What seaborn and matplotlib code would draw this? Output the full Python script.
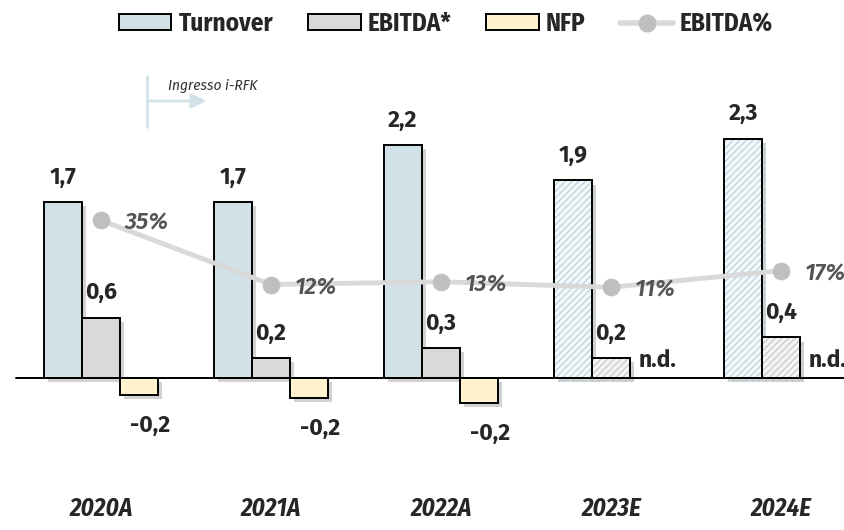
import numpy as np
import pandas as pd
import matplotlib
matplotlib.use("Agg")
import matplotlib.pyplot as plt
import matplotlib.patheffects as pe
from matplotlib.patches import Patch
from matplotlib.lines import Line2D
import seaborn as sns

# data
years = ["2020A", "2021A", "2022A", "2023E", "2024E"]
turnover = [1.69, 1.69, 2.24, 1.90, 2.30]
ebitda = [0.58, 0.19, 0.29, 0.19, 0.39]
nfp = [-0.16, -0.19, -0.24, np.nan, np.nan]
ebitda_pct = [0.35, 0.12, 0.13, 0.11, 0.17]
estimate_years = ["2023E", "2024E"]
metrics = ["Turnover", "EBITDA*", "NFP"]

colors = {"Turnover": "#d0e1e8", "EBITDA*": "#d9d9d9", "NFP": "#fff2cc"}
hatch_face = {"Turnover": "#f3f8fa", "EBITDA*": "#f4f4f4"}
hatch_line = {"Turnover": "#b7cfd9", "EBITDA*": "#c4c4c4"}
line_color = "#d9d9d9"
marker_color = "#bfbfbf"

sns.set_style("white")
plt.rcParams["font.family"] = ["Fira Sans", "DejaVu Sans"]
plt.rcParams["hatch.linewidth"] = 0.8
cond = ["Fira Sans Condensed", "DejaVu Sans"]

df = pd.DataFrame({
    "year": years * 3,
    "metric": sum([[m] * len(years) for m in metrics], []),
    "value": turnover + ebitda + nfp,
})

fig = plt.figure(figsize=(8.45, 5.3), dpi=100)
ax = fig.add_axes([0, 45 / 530, 1, 425 / 530])

shadow = [pe.SimplePatchShadow(offset=(3, -3), shadow_rgbFace="#808080", alpha=0.35), pe.Normal()]

sns.barplot(data=df, x="year", y="value", hue="metric", palette=colors,
            width=0.67, saturation=1, edgecolor="black", linewidth=1.4,
            legend=False, ax=ax)

ax.set_xlim(-101 / 170, (845 - 101) / 170)
ax.set_ylim(-107 / 104, -107 / 104 + 425 / 104)

# style bars: shadows, hatching for estimates, value labels
for k, (metric, cont) in enumerate(zip(metrics, ax.containers)):
    for bar in cont:
        h = bar.get_height()
        if np.isnan(h):
            continue
        bar.set_path_effects(shadow)
        idx = int(round(bar.get_x() + bar.get_width() / 2 - (k - 1) * bar.get_width()))
        if years[idx] in estimate_years:
            bar.set_facecolor(hatch_face[metric])
            bar.set_hatch("/////")
            if hasattr(bar, "set_hatchcolor"):
                bar.set_hatchcolor(hatch_line[metric])
            else:
                bar._hatch_color = matplotlib.colors.to_rgba(hatch_line[metric])
        txt = f"{h:.1f}".replace(".", ",")
        cx = bar.get_x() + bar.get_width() / 2
        if h >= 0:
            ax.annotate(txt, (cx, h), xytext=(0, 18), textcoords="offset points",
                        ha="center", va="center", fontsize=16.5, fontweight="bold")
        else:
            ax.annotate(txt, (cx, h), xytext=(8, -22), textcoords="offset points",
                        ha="center", va="center", fontsize=16.5, fontweight="bold")

# n.d. where NFP is missing
for bar, v in zip(ax.containers[1], nfp):
    if np.isnan(v):
        cx = bar.get_x() + 1.5 * bar.get_width()
        ax.annotate("n.d.", (cx, 0), xytext=(6, 13), textcoords="offset points",
                    ha="center", va="center", fontsize=16.5, fontweight="bold")

ax.axhline(0, xmin=16 / 845, xmax=1, color="black", lw=1.4, zorder=1)

ax.set_xticks(range(len(years)))
ax.set_xticklabels(years, fontsize=18, fontweight="bold", fontstyle="italic", family=cond)
ax.tick_params(axis="x", length=0, pad=8)
ax.set_yticks([])
ax.set_xlabel("")
ax.set_ylabel("")
sns.despine(ax=ax, left=True, bottom=True)

# EBITDA% line on a secondary axis
ax2 = ax.twinx()
sns.lineplot(x=np.arange(len(years)), y=ebitda_pct, ax=ax2, color=line_color, lw=3.5,
             marker="o", markersize=12, markerfacecolor=marker_color,
             markeredgecolor=marker_color, zorder=5)
ax2.set_ylim(-167 / 279, 258 / 279)
ax2.set_xlim(ax.get_xlim())
ax2.set_yticks([])
ax2.set_ylabel("")
sns.despine(ax=ax2, left=True, bottom=True, right=True)
for i, v in enumerate(ebitda_pct):
    ax2.annotate(f"{round(v * 100)}%", (i, v), xytext=(17, -2), textcoords="offset points",
                 ha="left", va="center", fontsize=17, fontweight="semibold",
                 fontstyle="italic", color="#545454", zorder=6)

# "Ingresso i-RFK" marker
mark_x = 46 / 170
ax.plot([mark_x, mark_x], [(378 - 76) / 104, (378 - 127) / 104], color="#d0e1e8", lw=2)
ax.annotate("", xy=(mark_x + 62 / 170, (378 - 101) / 104), xytext=(mark_x, (378 - 101) / 104),
            arrowprops=dict(arrowstyle="-|>", color="#d0e1e8", lw=2, mutation_scale=22))
ax.text(mark_x + 21 / 170, (378 - 86) / 104, "Ingresso i-RFK", fontsize=11,
        fontstyle="italic", color="#333333", va="center", ha="left", family=cond)

handles = [Patch(facecolor=colors[m], edgecolor="black", lw=1.4) for m in metrics]
handles.append(Line2D([0], [0], color=line_color, lw=4, marker="o", markersize=12,
                      markerfacecolor=marker_color, markeredgecolor=marker_color))
fig.legend(handles, metrics + ["EBITDA%"], loc="center", bbox_to_anchor=(446 / 845, 1 - 24 / 530),
           ncol=4, frameon=False, prop={"size": 18, "weight": "bold", "family": cond},
           handlelength=2.1, handleheight=0.6, handletextpad=0.28, columnspacing=1.4)

fig.savefig("out.png", dpi=100)
